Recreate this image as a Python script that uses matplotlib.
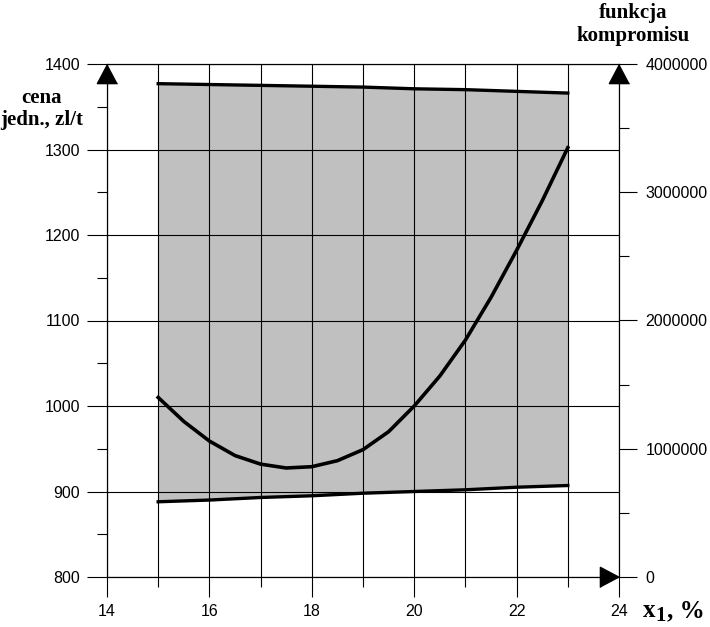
import matplotlib
matplotlib.use('Agg')
import matplotlib.pyplot as plt

# dane
x_granice = [15, 16, 17, 18, 19, 20, 21, 22, 23]
cena_gorna = [1377, 1376, 1375, 1374, 1373, 1371, 1370, 1368, 1366]
cena_dolna = [888, 890, 893, 895, 898, 900, 902, 905, 907]

x_funkcja = [15, 15.5, 16, 16.5, 17, 17.5, 18, 18.5, 19, 19.5, 20,
             20.5, 21, 21.5, 22, 22.5, 23]
funkcja = [1400000, 1213000, 1060000, 947000, 880000, 850000, 860000,
           907000, 993000, 1133000, 1333000, 1567000, 1847000, 2180000,
           2547000, 2933000, 3347000]

x_ticks = [14, 16, 18, 20, 22, 24]
y_ticks = [800, 900, 1000, 1100, 1200, 1300, 1400]
y2_ticks = [0, 1000000, 2000000, 3000000, 4000000]

sans = 'Liberation Sans'
serif = 'Liberation Serif'

fig = plt.figure(figsize=(7.1, 6.27), dpi=100)
ax = fig.add_axes([107 / 710, 1 - 577 / 627, 512 / 710, 513 / 627])

ax.set_xlim(14, 24)
ax.set_ylim(800, 1400)

# szary obszar i granice
ax.fill_between(x_granice, cena_dolna, cena_gorna, color='#c0c0c0', lw=0, zorder=0)
ax.plot(x_granice, cena_gorna, color='black', lw=2.4, zorder=3)
ax.plot(x_granice, cena_dolna, color='black', lw=2.4, zorder=3)

ax.set_xticks(x_ticks)
ax.set_xticks(range(15, 24, 2), minor=True)
ax.set_yticks(y_ticks)
ax.set_yticks(range(850, 1400, 100), minor=True)
ax.set_xticklabels([str(v) for v in x_ticks], fontfamily=sans, fontsize=11.5)
ax.set_yticklabels([str(v) for v in y_ticks], fontfamily=sans, fontsize=11.5)
ax.tick_params(axis='x', which='major', length=14.4, width=0.8, pad=5)
ax.tick_params(axis='x', which='minor', length=7.2, width=0.8)
ax.tick_params(axis='y', which='major', length=14.4, width=0.8, pad=5)
ax.tick_params(axis='y', which='minor', length=7.2, width=0.8)

ax.grid(True, axis='x', which='both', color='black', lw=0.8, zorder=1)
ax.grid(True, axis='y', which='major', color='black', lw=0.8, zorder=1)
ax.set_axisbelow(True)
for s in ax.spines.values():
    s.set_linewidth(0.8)

# prawa oś - funkcja kompromisu
ax2 = ax.twinx()
ax2.set_ylim(0, 4000000)
ax2.set_yticks(y2_ticks)
ax2.set_yticks(range(500000, 4000000, 1000000), minor=True)
ax2.set_yticklabels([str(v) for v in y2_ticks], fontfamily=sans, fontsize=11.5)
ax2.tick_params(axis='y', which='major', length=13, width=0.8, pad=6)
ax2.tick_params(axis='y', which='minor', length=7.2, width=0.8)
for s in ax2.spines.values():
    s.set_linewidth(0.8)
ax2.plot(x_funkcja, funkcja, color='black', lw=2.6, zorder=4)

# strzałki
arrow_up = [(0, 0), (-0.53, -1), (0.53, -1)]
arrow_right = [(0, 0), (-1, 0.53), (-1, -0.53)]
ax.plot([14, 24], [1400, 1400], ls='none', marker=arrow_up, ms=27.5,
        color='black', clip_on=False, zorder=5)
ax.plot([24], [800], ls='none', marker=arrow_right, ms=27.5,
        color='black', clip_on=False, zorder=5)

# opisy osi
fig.text(42 / 710, 1 - 98 / 627, 'cena', fontfamily=serif, fontweight='bold',
         fontsize=15, ha='center', va='center')
fig.text(42 / 710, 1 - 120 / 627, 'jedn., zl/t', fontfamily=serif, fontweight='bold',
         fontsize=15, ha='center', va='center')
fig.text(633 / 710, 1 - 13 / 627, 'funkcja', fontfamily=serif, fontweight='bold',
         fontsize=15, ha='center', va='center')
fig.text(633 / 710, 1 - 36 / 627, 'kompromisu', fontfamily=serif, fontweight='bold',
         fontsize=15, ha='center', va='center')
fig.text(643 / 710, 1 - 617 / 627, 'x', fontfamily=serif, fontweight='bold',
         fontsize=18, ha='left', va='baseline')
fig.text(655 / 710, 1 - 621 / 627, '1', fontfamily=serif, fontweight='bold',
         fontsize=15, ha='left', va='baseline')
fig.text(667 / 710, 1 - 617 / 627, ', %', fontfamily=serif, fontweight='bold',
         fontsize=18, ha='left', va='baseline')

fig.savefig('out.png', dpi=100)
